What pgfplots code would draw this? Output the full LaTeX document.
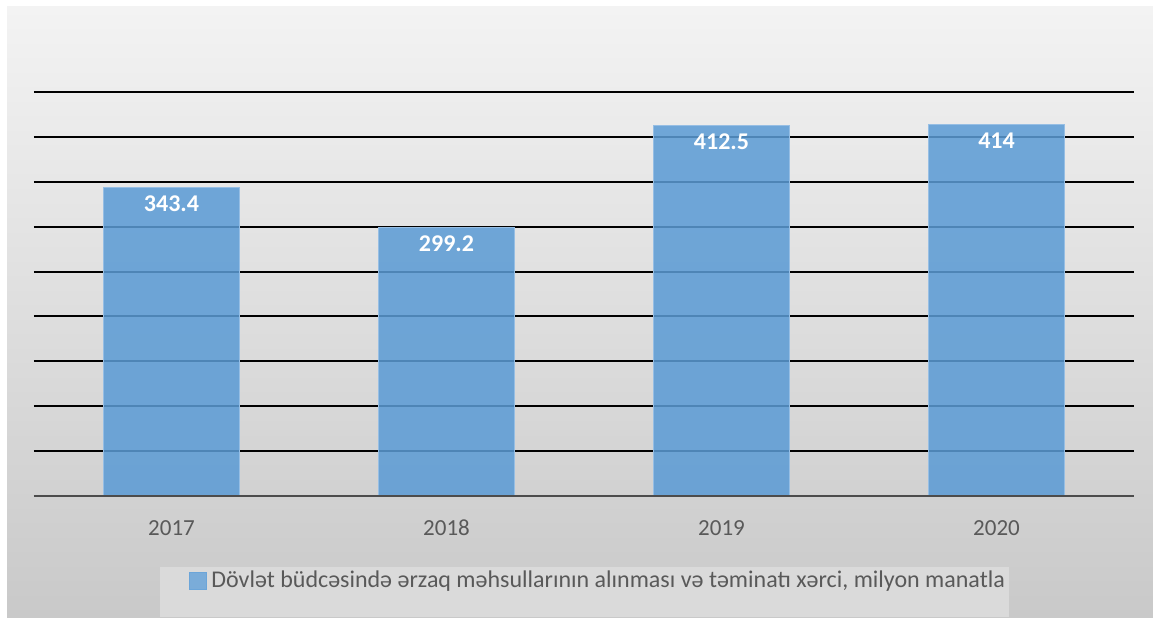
\documentclass[border=0pt]{standalone}
\usepackage{fontspec}
\setmainfont{Carlito}
\usepackage{pgfplots}
\pgfplotsset{compat=1.18}
\definecolor{barblue}{RGB}{91,155,213}
\definecolor{baredge}{RGB}{150,190,228}
\definecolor{bgtop}{RGB}{243,243,243}
\definecolor{bgbot}{RGB}{201,201,201}
\definecolor{legbg}{RGB}{218,218,218}
\definecolor{ticktext}{RGB}{89,89,89}
\begin{document}
\begin{tikzpicture}
\useasboundingbox (0,0) rectangle (576.5pt,308.5pt);
\fill[white] (0,0) rectangle (576.5pt,308.5pt);
\shade[top color=bgtop, bottom color=bgbot] (3.5pt,0) rectangle (576.5pt,305pt);
\fill[legbg] (80pt,0) rectangle (504.5pt,25pt);
\begin{axis}[
  at={(17pt,60.5pt)}, anchor=south west,
  width=550pt, height=202pt, scale only axis,
  xmin=-0.5, xmax=3.5, ymin=0, ymax=450,
  ytick={0,50,...,450},
  yticklabels={},
  xtick={0,1,2,3}, xticklabels={2017,2018,2019,2020},
  major tick length=0pt,
  axis line style={draw=none},
  ymajorgrids,
  major grid style={black, line width=1pt},
  /pgf/number format/assume math mode=true,
  xticklabel style={font=\fontsize{11.5}{13}\selectfont, text=ticktext, yshift=-8pt, text height=8pt, text depth=0pt},
  ybar, bar width=68pt,
  nodes near coords,
  nodes near coords style={anchor=north, text=white, font=\bfseries\fontsize{12}{14}\selectfont, yshift=-0.5pt},
  legend style={at={(0.1409,-0.2104)}, anchor=west, draw=none, fill=none,
    font=\fontsize{12}{14}\selectfont, text=ticktext, inner sep=0pt,
    /tikz/every even column/.append style={column sep=0pt}},
  legend image code/.code={\fill[barblue!90!white] (0pt,-4.25pt) rectangle (8.5pt,4.25pt);},
  clip=false,
]
\addplot[fill=barblue, fill opacity=0.86, draw=baredge, line width=0.5pt, text opacity=1]
  coordinates {(0,343.4) (1,299.2) (2,412.5) (3,414)};
\addlegendentry{Dövlət büdcəsində ərzaq məhsullarının alınması və təminatı xərci, milyon manatla}
\end{axis}
\draw[black!70, line width=1.3pt] (17pt,60.5pt) -- (567pt,60.5pt);
\end{tikzpicture}
\end{document}
